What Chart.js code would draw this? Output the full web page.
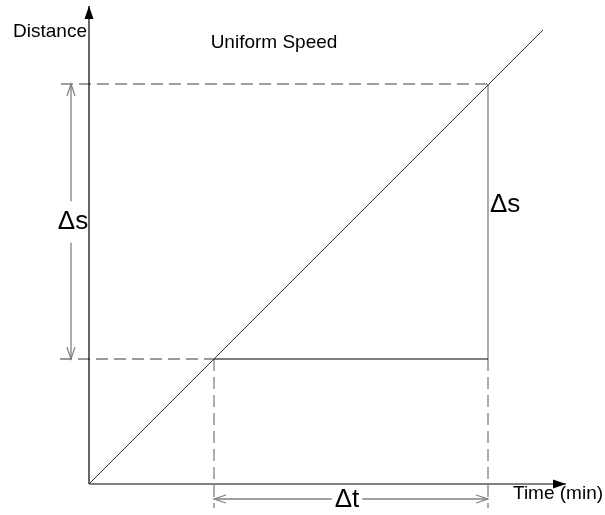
<!DOCTYPE html>
<html>
<head>
<meta charset="utf-8">
<script src="https://cdn.jsdelivr.net/npm/chart.js@4.4.0/dist/chart.umd.min.js"></script>
<style>
  body { margin: 0; background: #fff; }
  canvas { display: block; }
</style>
</head>
<body>
<canvas id="speedChart" width="605" height="515"></canvas>
<script>
// values in drawing units (time on x, distance on y)
const lineTime = [0, 454];
const lineDist = [0, 454];
const deltaT = [125, 399];   // t1, t2
const deltaS = [125, 400];   // s1, s2
const axisMax = { time: 477, dist: 478 };
const labels = ["Distance", "Uniform Speed", "Time (min)", "\u0394s", "\u0394t"];

const gray = "#808080";
const dash = [12, 6];

function seg(x1, y1, x2, y2, style) {
    return Object.assign({
        data: [{ x: x1, y: y1 }, { x: x2, y: y2 }],
        showLine: true,
        pointRadius: 0,
        borderColor: gray,
        borderWidth: 1.3,
        fill: false
    }, style);
}

const datasets = [
    // the uniform speed line
    seg(lineTime[0], lineDist[0], lineTime[1], lineDist[1], { borderColor: "#333", borderWidth: 1 }),
    // axes
    seg(0, 0, 0, axisMax.dist, { borderColor: "#000", borderWidth: 1.2, arrowEnd: "filled" }),
    seg(0, 0, axisMax.time, 0, { borderColor: gray, borderWidth: 2, arrowEnd: "filled" }),
    // guides
    seg(-28, deltaS[1], deltaT[1], deltaS[1], { borderDash: dash }),
    seg(-29, deltaS[0], deltaT[0], deltaS[0], { borderColor: "#333", borderWidth: 1, borderDash: dash }),
    seg(deltaT[0], deltaS[0], deltaT[1], deltaS[0], { borderColor: "#000", borderWidth: 1 }),
    seg(deltaT[1], deltaS[0], deltaT[1], deltaS[1], {}),
    seg(deltaT[1], deltaS[0], deltaT[1], -24, { borderDash: dash }),
    seg(deltaT[0], deltaS[0], deltaT[0], -24, { borderDash: dash }),
    // dimension arrows
    seg(-18, deltaS[0], -18, deltaS[1], { arrowStart: "open", arrowEnd: "open" }),
    seg(deltaT[0], -15, deltaT[1], -15, { arrowStart: "open", arrowEnd: "open" })
];

function drawHead(ctx, tip, from, kind, color) {
    const ang = Math.atan2(tip.y - from.y, tip.x - from.x);
    const len = kind === "filled" ? 13 : 12;
    const half = kind === "filled" ? 4.5 : 4;
    const bx = tip.x - Math.cos(ang) * len;
    const by = tip.y - Math.sin(ang) * len;
    const px = -Math.sin(ang) * half;
    const py = Math.cos(ang) * half;
    ctx.beginPath();
    ctx.moveTo(bx + px, by + py);
    ctx.lineTo(tip.x, tip.y);
    ctx.lineTo(bx - px, by - py);
    if (kind === "filled") {
        ctx.closePath();
        ctx.fillStyle = "#000";
        ctx.fill();
    } else {
        ctx.strokeStyle = color;
        ctx.lineWidth = 1.2;
        ctx.stroke();
    }
}

const arrowPlugin = {
    id: "arrowHeads",
    afterDatasetsDraw(chart) {
        const ctx = chart.ctx;
        ctx.save();
        chart.data.datasets.forEach((ds, i) => {
            const pts = chart.getDatasetMeta(i).data;
            if (ds.arrowEnd) drawHead(ctx, pts[pts.length - 1], pts[pts.length - 2], ds.arrowEnd, ds.borderColor);
            if (ds.arrowStart) drawHead(ctx, pts[0], pts[1], ds.arrowStart, ds.borderColor);
        });
        ctx.restore();
    }
};

const textPlugin = {
    id: "diagramText",
    afterDraw(chart) {
        const ctx = chart.ctx;
        const xs = chart.scales.x;
        const ys = chart.scales.y;
        // gap: "v" breaks a vertical arrow, "h" breaks a horizontal one
        const put = (text, x, y, size, align, gap) => {
            ctx.font = size + "px 'Liberation Sans', Arial, sans-serif";
            ctx.textAlign = align;
            ctx.textBaseline = "middle";
            const px = xs.getPixelForValue(x);
            const py = ys.getPixelForValue(y);
            const w = ctx.measureText(text).width;
            ctx.fillStyle = "#fff";
            if (gap === "v") ctx.fillRect(px - 4, py - size * 0.8, 8, size * 1.6);
            if (gap === "h") ctx.fillRect(px - w / 2 - 3, py - 4, w + 6, 8);
            ctx.fillStyle = "#000";
            ctx.fillText(text, px, py);
        };
        ctx.save();
        put(labels[0], -2, 452, 19, "right");
        put(labels[1], 185, 441, 19, "center");
        put(labels[2], 424, -10, 19, "left");
        put(labels[3], -16, 262, 26, "center", "v");
        put(labels[3], 401, 279, 26, "left");
        put(labels[4], (deltaT[0] + deltaT[1]) / 2 - 4, -16, 26, "center", "h");
        ctx.restore();
    }
};

new Chart(document.getElementById("speedChart").getContext("2d"), {
    type: "scatter",
    data: { datasets: datasets },
    options: {
        responsive: false,
        animation: false,
        events: [],
        layout: { padding: 0 },
        scales: {
            x: { type: "linear", display: false, min: -89, max: 516 },
            y: { type: "linear", display: false, min: -31, max: 484 }
        },
        plugins: {
            legend: { display: false },
            tooltip: { enabled: false },
            title: { display: false }
        }
    },
    plugins: [arrowPlugin, textPlugin]
});
</script>
</body>
</html>
